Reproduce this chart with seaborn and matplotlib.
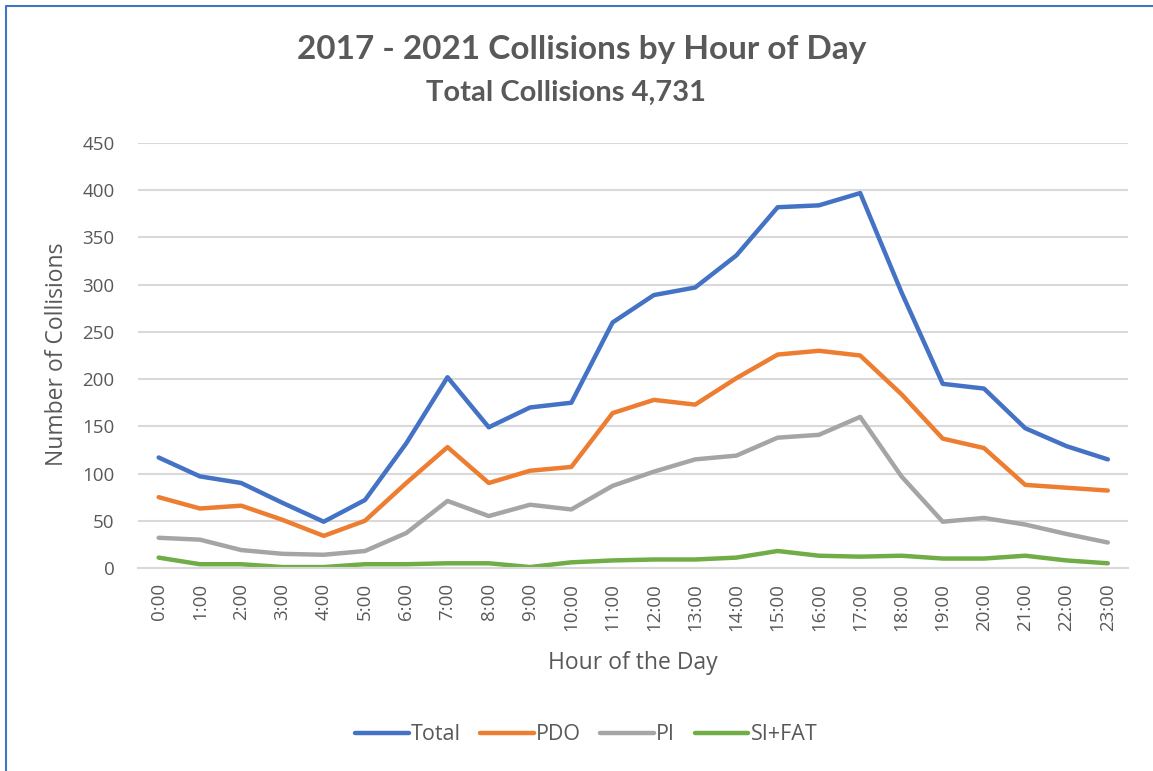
import matplotlib
matplotlib.use("Agg")
import matplotlib.pyplot as plt
import seaborn as sb
import pandas as pd
from matplotlib.lines import Line2D

# Collisions by hour (2017 - 2021)
hours = ["%d:00" % h for h in range(24)]
total = [117, 97, 90, 69, 49, 72, 132, 202, 149, 170, 175, 260,
         289, 297, 331, 382, 384, 397, 292, 195, 190, 148, 129, 115]
pdo = [75, 63, 66, 51, 34, 50, 90, 128, 90, 103, 107, 164,
       178, 173, 201, 226, 230, 225, 184, 137, 127, 88, 85, 82]
pi = [32, 30, 19, 15, 14, 18, 37, 71, 55, 67, 62, 87,
      102, 115, 119, 138, 141, 160, 97, 49, 53, 46, 36, 27]
si_fat = [11, 4, 4, 1, 1, 4, 4, 5, 5, 1, 6, 8,
          9, 9, 11, 18, 13, 12, 13, 10, 10, 13, 8, 5]
series = ["Total", "PDO", "PI", "SI+FAT"]
colors = ["#4472C4", "#ED7D31", "#A5A5A5", "#70AD47"]

dataset = pd.DataFrame({"Hour": hours, "Total": total, "PDO": pdo, "PI": pi, "SI+FAT": si_fat})
long = dataset.melt(id_vars="Hour", var_name="Type", value_name="Collisions")

sb.set_style("white")
plt.rcParams["font.family"] = ["Open Sans", "DejaVu Sans"]
txt = "#595959"

fig = plt.figure(figsize=(11.53, 7.71), dpi=100)
ax = fig.add_axes([0.1197, 0.2633, 0.8590, 0.5512])

sb.lineplot(data=long, x="Hour", y="Collisions", hue="Type", hue_order=series,
            palette=colors, linewidth=3.2, sort=False, ax=ax, legend=False)

ax.set_xlim(-0.5, 23.5)
ax.set_ylim(0, 450)
ax.set_yticks(range(0, 451, 50))
ax.set_xticks(range(24))
ax.set_xticklabels(hours, rotation=90)
ax.grid(axis="y", color="#D9D9D9", linewidth=1.5)
ax.set_axisbelow(True)
for s in ["top", "right", "left"]:
    ax.spines[s].set_visible(False)
ax.spines["bottom"].set_color("#D9D9D9")
ax.spines["bottom"].set_linewidth(1.5)
ax.tick_params(axis="y", length=0, pad=17, labelsize=13.5, labelcolor=txt)
ax.tick_params(axis="x", length=0, pad=11, labelsize=13.5, labelcolor=txt)

ax.set_xlabel("")
ax.set_ylabel("")
fig.text(57 / 1153, 1 - 354 / 771, "Number of Collisions", rotation=90, ha="center", va="center",
         fontsize=16.5, color=txt)
fig.text(633 / 1153, 1 - 663 / 771, "Hour of the Day", ha="center", va="center",
         fontsize=16.5, color=txt)

fig.text(582 / 1153, 1 - 50 / 771, "2017 - 2021 Collisions by Hour of Day", ha="center", va="center",
         fontsize=24, fontweight="bold", color=txt, family=["Lato", "DejaVu Sans"])
fig.text(566 / 1153, 1 - 93 / 771, "Total Collisions 4,731", ha="center", va="center",
         fontsize=21, fontweight="bold", color=txt, family=["Lato", "DejaVu Sans"])

handles = [Line2D([0], [0], color=c, linewidth=3.2, solid_capstyle="round") for c in colors]
fig.legend(handles, series, loc="center", bbox_to_anchor=(586 / 1153, 1 - 735 / 771),
           ncol=4, frameon=False, fontsize=15.5, labelcolor=txt, handlelength=2.5,
           handletextpad=0.1, columnspacing=0.9)

# chart frame (left and top edges visible)
fig.add_artist(Line2D([6 / 1153, 6 / 1153, 1], [0, 1 - 6 / 771, 1 - 6 / 771],
                      color="#4472C4", linewidth=1.5, transform=fig.transFigure))

fig.savefig("out.png", dpi=100)
